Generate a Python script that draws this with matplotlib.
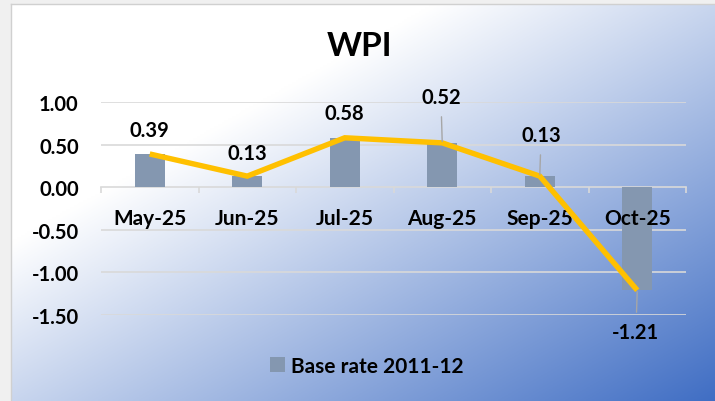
import numpy as np
import matplotlib
matplotlib.use("Agg")
import matplotlib.pyplot as plt

plt.rcParams['font.family'] = ['Lato', 'DejaVu Sans']
plt.rcParams['font.weight'] = 'bold'

# data
months = ['May-25', 'Jun-25', 'Jul-25', 'Aug-25', 'Sep-25', 'Oct-25']
wpi = [0.39, 0.13, 0.58, 0.52, 0.13, -1.21]
yticks = [1.0, 0.5, 0.0, -0.5, -1.0, -1.5]
series_name = 'Base rate 2011-12'

# label offsets (points) and whether a leader line is drawn
lbl_dx = [0, 0, 0, -1, 1, -1]
lbl_dy = [17, 17, 18, 33, 29.5, -30]
leader = [False, False, False, True, True, True]

fig = plt.figure(figsize=(7.15, 4.02), dpi=100)
fig.patch.set_facecolor('#F0F0F0')

# gradient background panel
bg = fig.add_axes([12 / 715, 0, 1 - 12 / 715, (402 - 5) / 402])
h, w = 200, 360
xx, yy = np.meshgrid(np.linspace(0, 1, w), np.linspace(0, 1, h))
t = (xx + yy) / 2
f = np.clip((t - 0.3) / 0.7, 0, 1)
c0 = np.array([255, 255, 255]) / 255
c1 = np.array([64, 110, 196]) / 255
img = c0[None, None, :] * (1 - f[..., None]) + c1[None, None, :] * f[..., None]
bg.imshow(img, aspect='auto', extent=[0, 1, 1, 0])
bg.set_axis_off()
# frame edges
fig.add_artist(plt.Line2D([11.5 / 715, 11.5 / 715], [0, (402 - 4.5) / 402], color='#D0D0D0', lw=1))
fig.add_artist(plt.Line2D([11.5 / 715, 1], [(402 - 4.5) / 402, (402 - 4.5) / 402], color='#D0D0D0', lw=1))

ax = fig.add_axes([101 / 715, (402 - 316) / 402, 585 / 715, 213 / 402])
ax.set_facecolor('none')
x = np.arange(len(months))

# gridlines behind the bars
for v in yticks:
    if v != 0:
        ax.axhline(v, color='#D9D9D9', lw=1.2, zorder=0)

ax.bar(x, wpi, width=0.31, color='#8497B0', zorder=2, label=series_name)
ax.plot(x, wpi, color='#FFC000', lw=3.9, zorder=3, solid_joinstyle='miter', solid_capstyle='butt')

for i, v in enumerate(wpi):
    props = None
    if leader[i]:
        props = dict(arrowstyle='-', color='#A6A6A6', lw=1, shrinkA=5, shrinkB=1)
    ax.annotate('%.2f' % v, xy=(x[i], v), xytext=(lbl_dx[i], lbl_dy[i]),
                textcoords='offset points', ha='center', va='center',
                fontsize=14.5, fontweight='bold', color='black',
                arrowprops=props, zorder=4, annotation_clip=False)

ax.set_xlim(-0.5, len(months) - 0.5)
ax.set_ylim(-1.5, 1.0)
ax.set_yticks(yticks)
ax.set_yticklabels(['%.2f' % v for v in yticks])
ax.tick_params(axis='y', length=0, pad=16, labelsize=14.5)

ax.set_xticks(x)
ax.set_xticklabels(months)
ax.set_xticks(np.arange(len(months) + 1) - 0.5, minor=True)
ax.tick_params(axis='x', which='major', length=0, pad=15, labelsize=15)
ax.tick_params(axis='x', which='minor', length=4, width=1.2, color='#D9D9D9', direction='out')
ax.set_axisbelow(False)

for s in ['top', 'right', 'left']:
    ax.spines[s].set_visible(False)
ax.spines['bottom'].set_position(('data', 0))
ax.spines['bottom'].set_color('#D9D9D9')
ax.spines['bottom'].set_linewidth(1.2)
ax.spines['bottom'].set_zorder(1)

fig.text(360 / 715, (402 - 47) / 402, 'WPI', ha='center', va='center',
         fontsize=24, fontweight='bold')

fig.legend(loc='center', bbox_to_anchor=(367 / 715, (402 - 367) / 402),
           frameon=False, prop={'size': 15, 'weight': 'bold'},
           handlelength=0.7, handleheight=0.7, handletextpad=0.3)

fig.savefig('out.png', dpi=100)
